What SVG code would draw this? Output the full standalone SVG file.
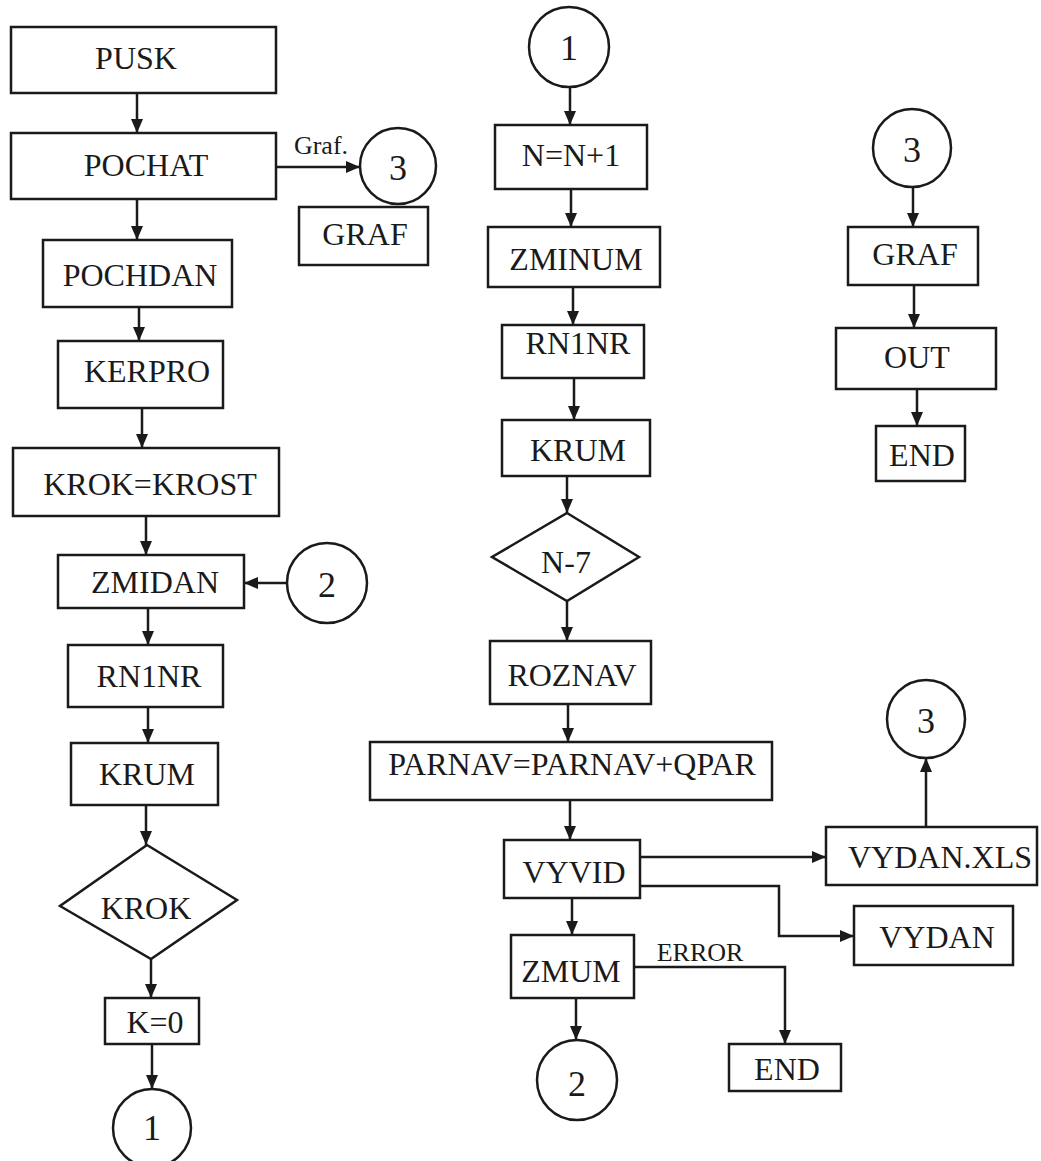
<svg xmlns="http://www.w3.org/2000/svg" width="1041" height="1161" viewBox="0 0 1041 1161">
<defs>
<style>
.b{fill:#fff;stroke:#1a1a1a;stroke-width:2.5}
.t{font-family:"Liberation Serif","Times New Roman",serif;font-size:32px;fill:#1a1a1a;text-anchor:middle}
.d{font-size:36px}
.s{font-size:26px}
.c{fill:none;stroke:#1a1a1a;stroke-width:2.5}
</style>
<marker id="ah" markerUnits="userSpaceOnUse" markerWidth="14" markerHeight="12" refX="14" refY="6" orient="auto">
<path d="M0,0 L14,6 L0,12 Z" fill="#1a1a1a"/>
</marker>
</defs>
<rect width="1041" height="1161" fill="#fff"/>
<g id="connectors" class="c" marker-end="url(#ah)">
<line x1="137" y1="93" x2="137" y2="133"/>
<line x1="137" y1="199" x2="137" y2="240"/>
<line x1="276" y1="167" x2="360" y2="167"/>
<line x1="139" y1="307" x2="139" y2="341"/>
<line x1="142" y1="408" x2="142" y2="448"/>
<line x1="146" y1="516" x2="146" y2="555"/>
<line x1="287" y1="583" x2="244" y2="583"/>
<line x1="148" y1="608" x2="148" y2="645"/>
<line x1="148" y1="707" x2="148" y2="743"/>
<line x1="146" y1="805" x2="146" y2="845"/>
<line x1="151" y1="959" x2="151" y2="998"/>
<line x1="152" y1="1044" x2="152" y2="1089"/>
<line x1="570" y1="87" x2="570" y2="125"/>
<line x1="571" y1="189" x2="571" y2="227"/>
<line x1="573" y1="287" x2="573" y2="325"/>
<line x1="574" y1="378" x2="574" y2="420"/>
<line x1="567" y1="476" x2="567" y2="513"/>
<line x1="567" y1="601" x2="567" y2="641"/>
<line x1="568" y1="704" x2="568" y2="742"/>
<line x1="570" y1="800" x2="570" y2="840"/>
<line x1="640" y1="857" x2="826" y2="857"/>
<line x1="926" y1="827" x2="926" y2="758"/>
<polyline points="640,886 779,886 779,936 854,936"/>
<line x1="572" y1="898" x2="572" y2="935"/>
<polyline points="634,967 785,967 785,1044"/>
<line x1="576" y1="998" x2="576" y2="1040"/>
<line x1="913" y1="187" x2="913" y2="227"/>
<line x1="914" y1="285" x2="914" y2="328"/>
<line x1="917" y1="389" x2="917" y2="426"/>
</g>
<g id="lbl-graf"><text class="t s" x="321" y="154">Graf.</text></g>
<g id="lbl-error"><text class="t s" x="700" y="961">ERROR</text></g>
<g id="pusk"><rect class="b" x="11" y="27" width="265" height="66"/><text class="t" x="136" y="69">PUSK</text></g>
<g id="pochat"><rect class="b" x="11" y="133" width="265" height="66"/><text class="t" x="146" y="176">POCHAT</text></g>
<g id="c3a"><circle class="b" cx="398" cy="166" r="38"/><text class="t d" x="398" y="180">3</text></g>
<g id="graf1"><rect class="b" x="299" y="207" width="129" height="58"/><text class="t" x="365" y="245">GRAF</text></g>
<g id="pochdan"><rect class="b" x="43" y="240" width="189" height="67"/><text class="t" x="140" y="286">POCHDAN</text></g>
<g id="kerpro"><rect class="b" x="58" y="341" width="165" height="67"/><text class="t" x="147" y="382">KERPRO</text></g>
<g id="krokkrost"><rect class="b" x="13" y="448" width="266" height="68"/><text class="t" x="150" y="495">KROK=KROST</text></g>
<g id="zmidan"><rect class="b" x="58" y="555" width="186" height="53"/><text class="t" x="155" y="593">ZMIDAN</text></g>
<g id="c2a"><circle class="b" cx="327" cy="583" r="40"/><text class="t d" x="327" y="597">2</text></g>
<g id="rn1nr1"><rect class="b" x="68" y="645" width="155" height="62"/><text class="t" x="149" y="687">RN1NR</text></g>
<g id="krum1"><rect class="b" x="71" y="743" width="147" height="62"/><text class="t" x="147" y="785">KRUM</text></g>
<g id="krok"><polygon class="b" points="147,845 237,900 151,959 60,906"/><text class="t" x="146" y="919">KROK</text></g>
<g id="k0"><rect class="b" x="105" y="998" width="94" height="46"/><text class="t" x="155" y="1033">K=0</text></g>
<g id="c1a"><circle class="b" cx="152" cy="1128" r="39"/><text class="t d" x="152" y="1140">1</text></g>
<g id="c1b"><circle class="b" cx="569" cy="47" r="40"/><text class="t d" x="569" y="60">1</text></g>
<g id="nn1"><rect class="b" x="495" y="125" width="152" height="64"/><text class="t" x="571" y="166">N=N+1</text></g>
<g id="zminum"><rect class="b" x="488" y="227" width="172" height="60"/><text class="t" x="576" y="270">ZMINUM</text></g>
<g id="rn1nr2"><rect class="b" x="502" y="325" width="142" height="53"/><text class="t" x="578" y="354">RN1NR</text></g>
<g id="krum2"><rect class="b" x="502" y="420" width="148" height="56"/><text class="t" x="578" y="461">KRUM</text></g>
<g id="n7"><polygon class="b" points="567,513 639,557 567,601 492,557"/><text class="t" x="566" y="573">N-7</text></g>
<g id="roznav"><rect class="b" x="490" y="641" width="161" height="63"/><text class="t" x="572" y="686">ROZNAV</text></g>
<g id="parnav"><rect class="b" x="370" y="742" width="402" height="58"/><text class="t" x="572" y="775">PARNAV=PARNAV+QPAR</text></g>
<g id="vyvid"><rect class="b" x="504" y="840" width="136" height="58"/><text class="t" x="574" y="883">VYVID</text></g>
<g id="vydanxls"><rect class="b" x="826" y="827" width="211" height="58"/><text class="t" x="940" y="868">VYDAN.XLS</text></g>
<g id="c3b"><circle class="b" cx="926" cy="719" r="39"/><text class="t d" x="926" y="733">3</text></g>
<g id="vydan"><rect class="b" x="854" y="906" width="159" height="59"/><text class="t" x="937" y="948">VYDAN</text></g>
<g id="zmum"><rect class="b" x="511" y="935" width="123" height="63"/><text class="t" x="571" y="982">ZMUM</text></g>
<g id="end1"><rect class="b" x="729" y="1044" width="112" height="47"/><text class="t" x="787" y="1080">END</text></g>
<g id="c2b"><circle class="b" cx="577" cy="1080" r="40"/><text class="t d" x="577" y="1096">2</text></g>
<g id="c3c"><circle class="b" cx="912" cy="148" r="39"/><text class="t d" x="912" y="162">3</text></g>
<g id="graf2"><rect class="b" x="848" y="227" width="130" height="58"/><text class="t" x="915" y="265">GRAF</text></g>
<g id="out"><rect class="b" x="836" y="328" width="160" height="61"/><text class="t" x="917" y="368">OUT</text></g>
<g id="end2"><rect class="b" x="876" y="426" width="89" height="55"/><text class="t" x="922" y="466">END</text></g>
</svg>
